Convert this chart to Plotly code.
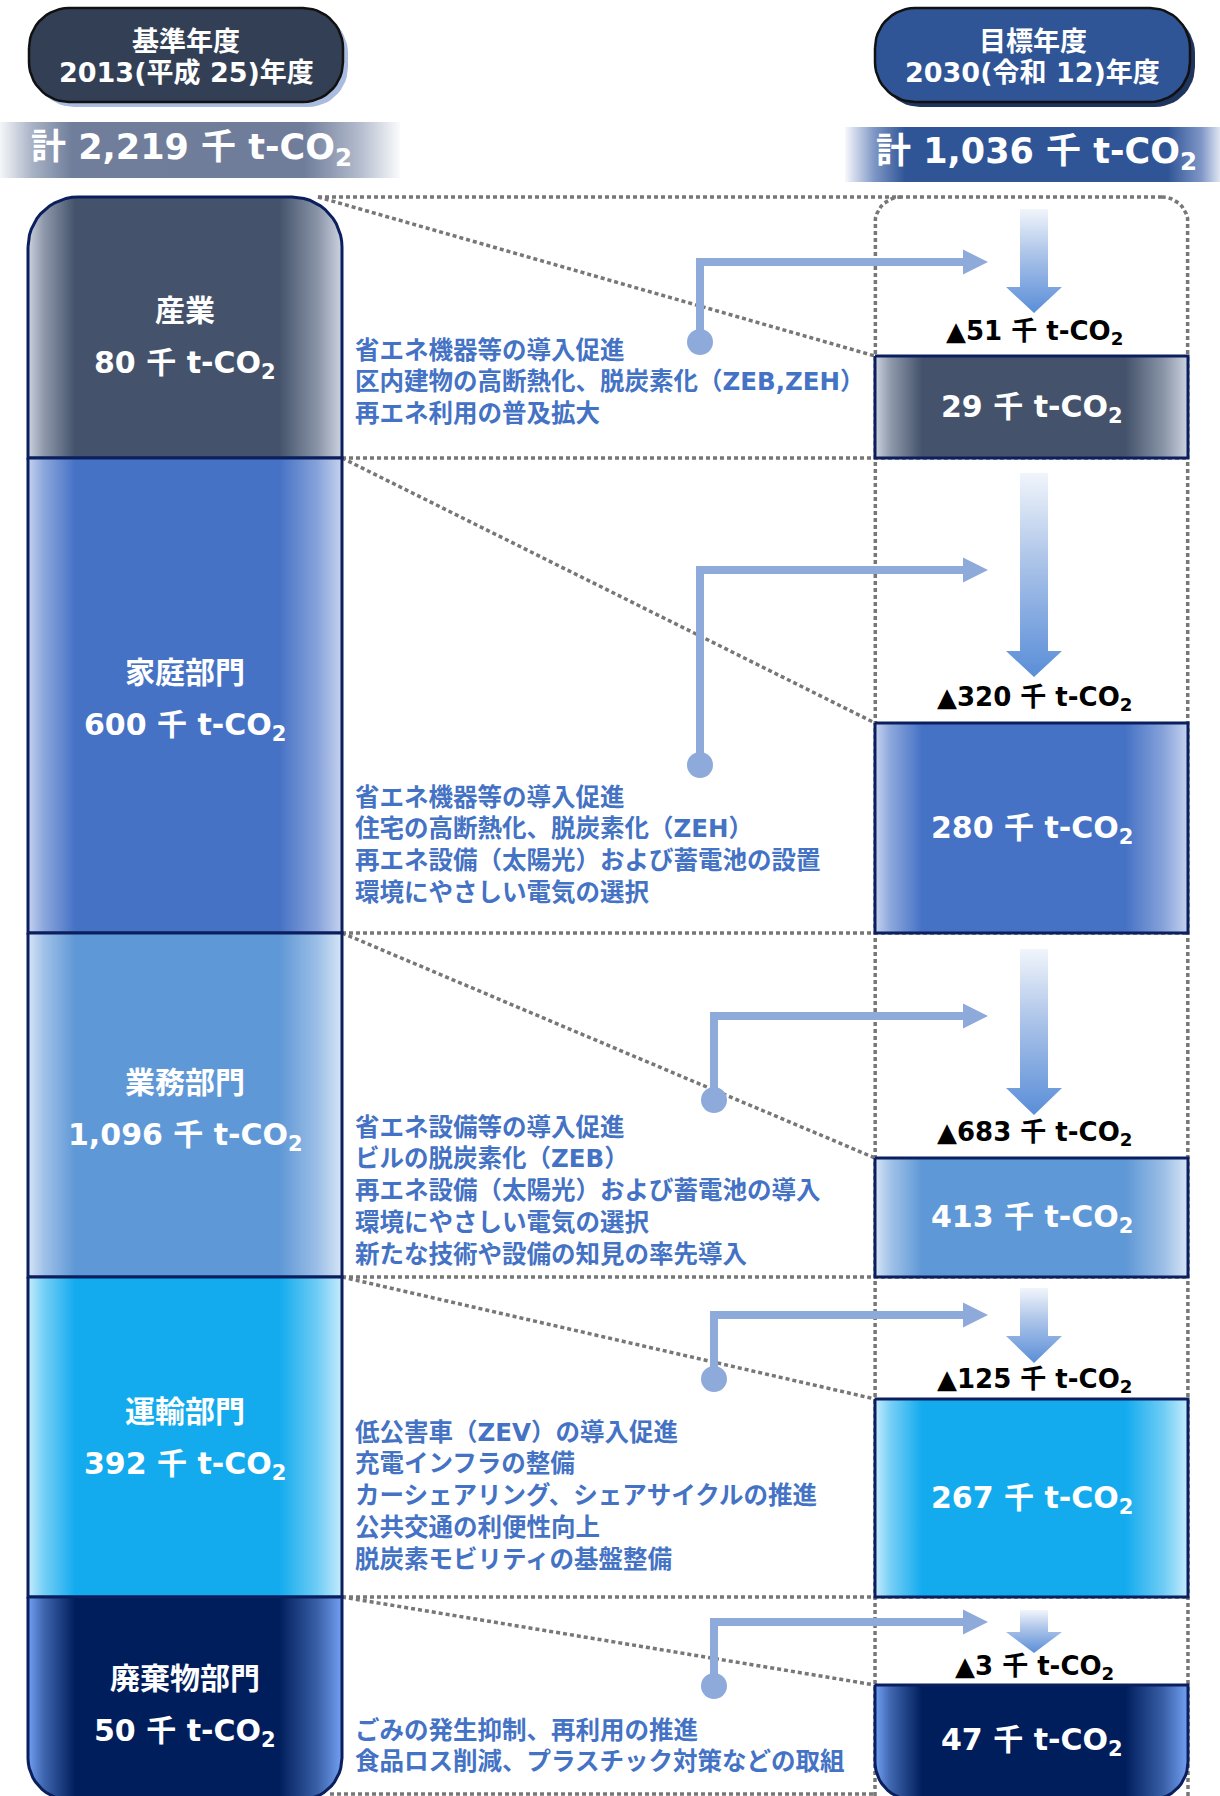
import plotly.graph_objects as go
import numpy as np

# ---------------- data ----------------
sectors = ["産業", "家庭部門", "業務部門", "運輸部門", "廃棄物部門"]
emissions_2013 = [80, 600, 1096, 392, 50]      # 千 t-CO2
emissions_2030 = [29, 280, 413, 267, 47]       # 千 t-CO2
total_2013 = 2219
total_2030 = 1036
base_year_label = ["基準年度", "2013(平成 25)年度"]
target_year_label = ["目標年度", "2030(令和 12)年度"]
measures = [
    ["省エネ機器等の導入促進",
     "区内建物の高断熱化、脱炭素化（ZEB,ZEH）",
     "再エネ利用の普及拡大"],
    ["省エネ機器等の導入促進",
     "住宅の高断熱化、脱炭素化（ZEH）",
     "再エネ設備（太陽光）および蓄電池の設置",
     "環境にやさしい電気の選択"],
    ["省エネ設備等の導入促進",
     "ビルの脱炭素化（ZEB）",
     "再エネ設備（太陽光）および蓄電池の導入",
     "環境にやさしい電気の選択",
     "新たな技術や設備の知見の率先導入"],
    ["低公害車（ZEV）の導入促進",
     "充電インフラの整備",
     "カーシェアリング、シェアサイクルの推進",
     "公共交通の利便性向上",
     "脱炭素モビリティの基盤整備"],
    ["ごみの発生抑制、再利用の推進",
     "食品ロス削減、プラスチック対策などの取組"],
]

# ---------------- layout (pixel canvas) ----------------
W, H = 1220, 1796
LX0, LX1 = 28, 342            # 2013 column
RX0, RX1 = 875, 1188          # 2030 column
band_edges = [197, 458, 933, 1277, 1597, 1800]
box_tops = [356, 723, 1158, 1399, 1685]
name_y = [310, 672, 1082, 1411, 1678]
VALUE_DY = 54
arrow_top = [209, 473, 949, 1288, 1610]
arrow_head = [287, 651, 1088, 1336, 1632]
arrow_tip = [313, 677, 1115, 1363, 1653]
drop_label_y = [332, 698, 1133, 1380, 1667]
ARROW_X = 1034
conn_x = [700, 700, 714, 714, 714]
conn_y = [262, 570, 1016, 1315, 1622]
dot_y = [342, 765, 1100, 1379, 1686]
CONN_TIP = 988
measure_y0 = [350, 797, 1127, 1432, 1730]
MEASURE_X = 353
LINE_STEP = 31.8

# ---------------- styles ----------------
sector_colors = ["#44536b", "#4672c5", "#5f98d6", "#14abee", "#001e5c"]
sector_edges = ["#cdd3e0", "#c6d2ef", "#d7e5f6", "#c6ecfc", "#72a0f2"]
NAVY = "#0b1f5e"
DOT_GREY = "#777777"
CONN_BLUE = "#8eaadb"
MEASURE_BLUE = "#4472c4"
LATIN_CJK = "DejaVu Sans, Noto Sans CJK JP, sans-serif"


def hex_rgb(h):
    h = h.lstrip("#")
    return np.array([int(h[i:i + 2], 16) for i in (0, 2, 4)], dtype=float)


def mix(a, b, t):
    c = hex_rgb(a) * (1 - t) + hex_rgb(b) * t
    return "rgb(%d,%d,%d)" % tuple(np.round(c))


def edge_scale(base, edge):
    return [[0.0, edge], [0.05, mix(edge, base, 0.45)], [0.15, base],
            [0.80, base], [0.92, mix(edge, base, 0.5)], [1.0, edge]]


def rounded_rect(x0, x1, y0, y1, rt=0.0, rb=0.0, n=14):
    """Closed outline of a rectangle (y grows downward) with optional round corners."""
    xs, ys = [], []

    def arc(cx, cy, r, a0, a1):
        for a in np.linspace(np.radians(a0), np.radians(a1), n):
            xs.append(cx + r * np.cos(a))
            ys.append(cy + r * np.sin(a))

    if rt > 0:
        arc(x0 + rt, y0 + rt, rt, 180, 270)
        arc(x1 - rt, y0 + rt, rt, 270, 360)
    else:
        xs += [x0, x1]
        ys += [y0, y0]
    if rb > 0:
        arc(x1 - rb, y1 - rb, rb, 0, 90)
        arc(x0 + rb, y1 - rb, rb, 90, 180)
    else:
        xs += [x1, x0]
        ys += [y1, y1]
    xs.append(xs[0])
    ys.append(ys[0])
    return xs, ys


fig = go.Figure()


def poly(xs, ys, fillcolor=None, gradient=None, line_color=None, line_width=0):
    kw = dict(x=xs, y=ys, mode="lines", fill="toself", hoverinfo="skip",
              showlegend=False,
              line=dict(color=line_color or "rgba(0,0,0,0)", width=line_width))
    if gradient is not None:
        kw["fillgradient"] = gradient
    else:
        kw["fillcolor"] = fillcolor
    fig.add_trace(go.Scatter(**kw))


def dotted(xs, ys):
    fig.add_trace(go.Scatter(x=xs, y=ys, mode="lines", hoverinfo="skip",
                             showlegend=False,
                             line=dict(color=DOT_GREY, width=3.5, dash="4px,3px")))


def note(x, y, text, size, color="white", xanchor="center", family=LATIN_CJK):
    fig.add_annotation(x=x, y=y, xref="x", yref="y", text=text, showarrow=False,
                       xanchor=xanchor, yanchor="middle",
                       font=dict(family=family, size=size, color=color, weight="bold"))


def co2(v):
    return "%s 千 t-CO<sub>2</sub>" % format(v, ",")


# ---------- header pills ----------
for (x0, x1, fill, shadow, lines) in [
        (29, 343, "#333f55", "#a9bce0", base_year_label),
        (875, 1190, "#2f5597", "#1f3560", target_year_label)]:
    sx, sy = rounded_rect(x0 + 5, x1 + 5, 13, 107, 40, 40)
    poly(sx, sy, fillcolor=shadow)
    px, py = rounded_rect(x0, x1, 8, 102, 40, 40)
    poly(px, py, fillcolor=fill, line_color="#111111", line_width=2.5)
    cx = (x0 + x1) / 2
    note(cx, 41, lines[0], 27)
    note(cx, 72, lines[1], 27)

# ---------- total banners ----------
bx, by = rounded_rect(0, 400, 122, 178)
poly(bx, by, gradient=dict(type="horizontal", start=0, stop=400, colorscale=[
    [0.0, "rgb(245,246,249)"], [0.08, "#a9b3c6"], [0.18, "#707e9b"],
    [0.76, "#6f7d9b"], [0.9, "#b4bccd"], [1.0, "rgb(250,251,252)"]]))
bx, by = rounded_rect(845, 1220, 127, 182)
poly(bx, by, gradient=dict(type="horizontal", start=845, stop=1220, colorscale=[
    [0.0, "rgb(246,248,252)"], [0.08, "#7d95c4"], [0.16, "#2f5597"],
    [0.86, "#2f5597"], [0.95, "#7f96c6"], [1.0, "#dfe6f2"]]))
note(191, 149, "計 %s 千 t-CO<sub>2</sub>" % format(total_2013, ","), 35)
note(1036, 153, "計 %s 千 t-CO<sub>2</sub>" % format(total_2030, ","), 35)

# ---------- dotted guide lines ----------
dotted([318, 1163], [band_edges[0], band_edges[0]])
for y in band_edges[1:5]:
    dotted([LX1, RX1], [y, y])
dotted([330, RX0], [1794, 1794])
# outline of the 2030 column area, rounded at the top
r = 26
quarter = np.linspace(0, np.pi / 2, 10)
left_side_x = [RX0, RX0] + list(RX0 + r - r * np.cos(quarter))
left_side_y = [1796, band_edges[0] + r] + list(band_edges[0] + r - r * np.sin(quarter))
dotted(left_side_x, left_side_y)
right_side_x = [RX1, RX1] + list(RX1 - r + r * np.cos(quarter))
right_side_y = [1796, band_edges[0] + r] + list(band_edges[0] + r - r * np.sin(quarter))
dotted(right_side_x, right_side_y)
# diagonals from each 2013 band to its 2030 box
for i in range(len(sectors)):
    x_start = 318 if i == 0 else LX1
    dotted([x_start, RX0], [band_edges[i], box_tops[i]])

# ---------- 2013 column ----------
for i, name in enumerate(sectors):
    y0, y1 = band_edges[i], band_edges[i + 1]
    xs, ys = rounded_rect(LX0, LX1, y0, y1,
                          rt=50 if i == 0 else 0,
                          rb=42 if i == len(sectors) - 1 else 0)
    poly(xs, ys, gradient=dict(type="horizontal", start=LX0, stop=LX1,
                               colorscale=edge_scale(sector_colors[i], sector_edges[i])),
         line_color=NAVY, line_width=3)
    cx = (LX0 + LX1) / 2
    note(cx, name_y[i], name, 30)
    note(cx, name_y[i] + VALUE_DY, co2(emissions_2013[i]), 30)

# ---------- 2030 column ----------
for i in range(len(sectors)):
    y0, y1 = box_tops[i], band_edges[i + 1]
    xs, ys = rounded_rect(RX0, RX1, y0, y1, rb=38 if i == len(sectors) - 1 else 0)
    poly(xs, ys, gradient=dict(type="horizontal", start=RX0, stop=RX1,
                               colorscale=edge_scale(sector_colors[i], sector_edges[i])),
         line_color=NAVY, line_width=3)
    note((RX0 + RX1) / 2, (y0 + min(y1, H)) / 2 + 1, co2(emissions_2030[i]), 30)

# ---------- reduction arrows and labels ----------
for i in range(len(sectors)):
    t, hd, tip = arrow_top[i], arrow_head[i], arrow_tip[i]
    xs = [ARROW_X - 14, ARROW_X + 14, ARROW_X + 14, ARROW_X + 28, ARROW_X,
          ARROW_X - 28, ARROW_X - 14, ARROW_X - 14]
    ys = [t, t, hd, hd, tip, hd, hd, t]
    poly(xs, ys, gradient=dict(type="vertical", start=t, stop=tip, colorscale=[
        [0.0, "#f1f5fb"], [0.45, "#a9c2e8"], [1.0, "#5a8ed8"]]))
    drop = emissions_2013[i] - emissions_2030[i]
    note(ARROW_X, drop_label_y[i], "▲%s 千 t-CO<sub>2</sub>" % format(drop, ","),
         26, color="#000000")

# ---------- connectors from measures to arrows ----------
for i in range(len(sectors)):
    vx, hy, dy = conn_x[i], conn_y[i], dot_y[i]
    xs = [vx - 4, vx - 4, CONN_TIP - 25, CONN_TIP - 25, CONN_TIP,
          CONN_TIP - 25, CONN_TIP - 25, vx + 4, vx + 4, vx - 4]
    ys = [dy, hy - 4, hy - 4, hy - 12.5, hy, hy + 12.5, hy + 4, hy + 4, dy, dy]
    poly(xs, ys, fillcolor=CONN_BLUE)
    fig.add_trace(go.Scatter(x=[vx], y=[dy], mode="markers", hoverinfo="skip",
                             showlegend=False,
                             marker=dict(size=26, color=CONN_BLUE, line=dict(width=0))))

# ---------- measure text ----------
for i, lines in enumerate(measures):
    for k, line in enumerate(lines):
        note(MEASURE_X, measure_y0[i] + k * LINE_STEP, line, 24.5,
             color=MEASURE_BLUE, xanchor="left")

fig.update_layout(
    width=W, height=H,
    margin=dict(l=0, r=0, t=0, b=0),
    paper_bgcolor="white", plot_bgcolor="white",
    showlegend=False,
    xaxis=dict(range=[0, W], visible=False, fixedrange=True),
    yaxis=dict(range=[H, 0], visible=False, fixedrange=True),
)

fig.write_html("out.html")
